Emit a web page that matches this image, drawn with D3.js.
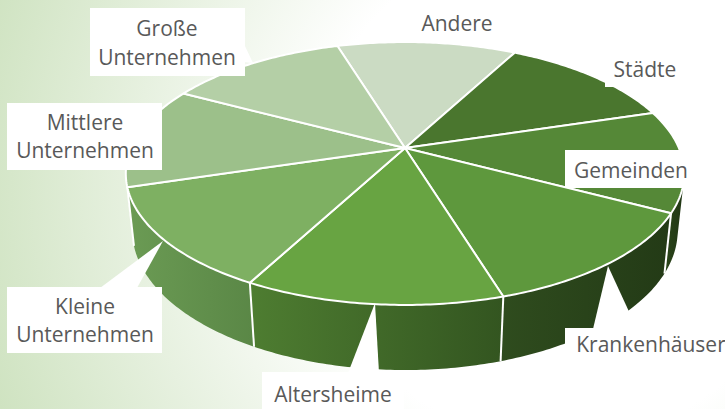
<!DOCTYPE html>
<html><head><meta charset="utf-8">
<script src="https://cdn.jsdelivr.net/npm/d3@7/dist/d3.min.js"></script>
<style>html,body{margin:0;padding:0;background:#fff;}svg{display:block;}</style>
</head><body><svg id="chart" width="725" height="409"></svg>
<script>
// ---- data ----
const categories = ["Andere","Städte","Gemeinden","Krankenhäuser","Altersheime","Kleine Unternehmen","Mittlere Unternehmen","Große Unternehmen"];
const values = [1,1,1,1,1,1,1,1];
const labelLines = [["Andere"],["Städte"],["Gemeinden"],["Krankenhäuser"],["Altersheime"],["Kleine","Unternehmen"],["Mittlere","Unternehmen"],["Große","Unternehmen"]];

// ---- styles ----
const topColors  = ["#cbdbc3","#4a762e","#558837","#5e983d","#68a442","#7eb062","#9cc08a","#b4cfa6"];
const wallColors = [["#b9cdb0","#a9bf9e"],["#3a5e24","#2f4e1d"],["#2a4519","#213615"],["#2f4c1e","#233a16"],["#4e7d31","#335520"],["#6b9b54","#5a8746"],["#86ae72","#7aa366"],["#a0bd92","#93b285"]];
// callout layout: box [x,y,w,h], text center x, baselines, pointer polygon
const callouts = {
  "Andere":{box:[413,-2,92,45],tx:457,ty:[31]},
  "Städte":{box:[605,50,90,37],tx:645,ty:[77]},
  "Gemeinden":{box:[565,150,130,38],tx:631,ty:[178]},
  "Krankenhäuser":{box:[565,328,170,50],tx:651,ty:[352],ptr:[[593,329],[608,266],[637,329]]},
  "Altersheime":{box:[262,372,142,40],tx:333,ty:[402],ptr:[[348,373],[375,303],[379,373]]},
  "Kleine Unternehmen":{box:[7,287,155,66],tx:85,ty:[314,342],ptr:[[100,288],[163,241],[137,288]]},
  "Mittlere Unternehmen":{box:[7,103,155,67],tx:85,ty:[130,158]},
  "Große Unternehmen":{box:[90,8,155,68],tx:167,ty:[36,65],ptr:[[244,44],[253,63],[244,62]]}
};

const W = 725, H = 409;
const svg = d3.select("#chart");
const defs = svg.append("defs");

// background
const bg = defs.append("radialGradient").attr("id","bg").attr("gradientUnits","userSpaceOnUse")
  .attr("cx",560).attr("cy",190).attr("r",600);
bg.append("stop").attr("offset",0.42).attr("stop-color","#ffffff");
bg.append("stop").attr("offset",1).attr("stop-color","#cfe3c1");
svg.append("rect").attr("width",W).attr("height",H).attr("fill","url(#bg)");

// perspective projection of a disk
const cx = 405, cy = 148, f = 1277, fx = 1258, D = 4.593;
const sA = 0.455, cA = Math.sqrt(1 - sA*sA);
const depthScale = d3.scaleLinear().domain([0,1]).range([0,-0.2326]);
function proj(t, r, z){
  const X = r*Math.sin(t), Y = r*Math.cos(t);
  const dep = D + Y*cA - z*sA;
  const v = Y*sA + z*cA;
  return [cx + fx*X/dep, cy - f*v/dep];
}
const start = -17*Math.PI/180;
const pie = d3.pie().sort(null).value(d=>d).startAngle(start).endAngle(start + 2*Math.PI);
const arcs = pie(values);
const line = d3.line();
const zb = depthScale(1);
const tv = Math.acos(-1/(D*cA));
const visA = tv, visB = 2*Math.PI - tv;
const N = 60;

// walls
const gWall = svg.append("g");
arcs.forEach((a,i)=>{
  const a0 = Math.max(a.startAngle, visA), a1 = Math.min(a.endAngle, visB);
  if (a1 <= a0) return;
  const topPts = d3.range(N+1).map(k=>proj(a0 + (a1-a0)*k/N, 1, 0));
  const botPts = d3.range(N+1).map(k=>proj(a1 - (a1-a0)*k/N, 1, zb));
  const xs = topPts.concat(botPts).map(p=>p[0]);
  const gid = "wg"+i;
  const g = defs.append("linearGradient").attr("id",gid).attr("gradientUnits","userSpaceOnUse")
    .attr("x1",d3.min(xs)).attr("x2",d3.max(xs)).attr("y1",0).attr("y2",0);
  g.append("stop").attr("offset",0).attr("stop-color",wallColors[i][0]);
  g.append("stop").attr("offset",1).attr("stop-color",wallColors[i][1]);
  gWall.append("path").attr("d", line(topPts.concat(botPts)) + "Z").attr("fill","url(#"+gid+")");
});
arcs.forEach(a=>{
  const t = a.startAngle;
  if (t > visA && t < visB) {
    const p = proj(t,1,0), q = proj(t,1,zb);
    gWall.append("line").attr("x1",p[0]).attr("y1",p[1]).attr("x2",q[0]).attr("y2",q[1])
      .attr("stroke","#ffffff").attr("stroke-width",2);
  }
});

// top face
const gTop = svg.append("g");
arcs.forEach((a,i)=>{
  const pts = [proj(0,0,0)].concat(d3.range(N+1).map(k=>proj(a.startAngle + (a.endAngle-a.startAngle)*k/N, 1, 0)));
  gTop.append("path").attr("d", line(pts)+"Z").attr("fill",topColors[i])
    .attr("stroke","#ffffff").attr("stroke-width",2).attr("stroke-linejoin","round");
});

// callouts
const gLab = svg.append("g");
categories.forEach((name,i)=>{
  const c = callouts[name];
  gLab.append("rect").attr("x",c.box[0]).attr("y",c.box[1]).attr("width",c.box[2]).attr("height",c.box[3]).attr("fill","#ffffff");
  if (c.ptr) gLab.append("path").attr("d", line(c.ptr)+"Z").attr("fill","#ffffff");
  labelLines[i].forEach((t,j)=>{
    gLab.append("text").attr("x",c.tx).attr("y",c.ty[j]).attr("text-anchor","middle")
      .attr("font-family","'Open Sans', sans-serif").attr("font-size",21).attr("fill","#595959").text(t);
  });
});
</script></body></html>
